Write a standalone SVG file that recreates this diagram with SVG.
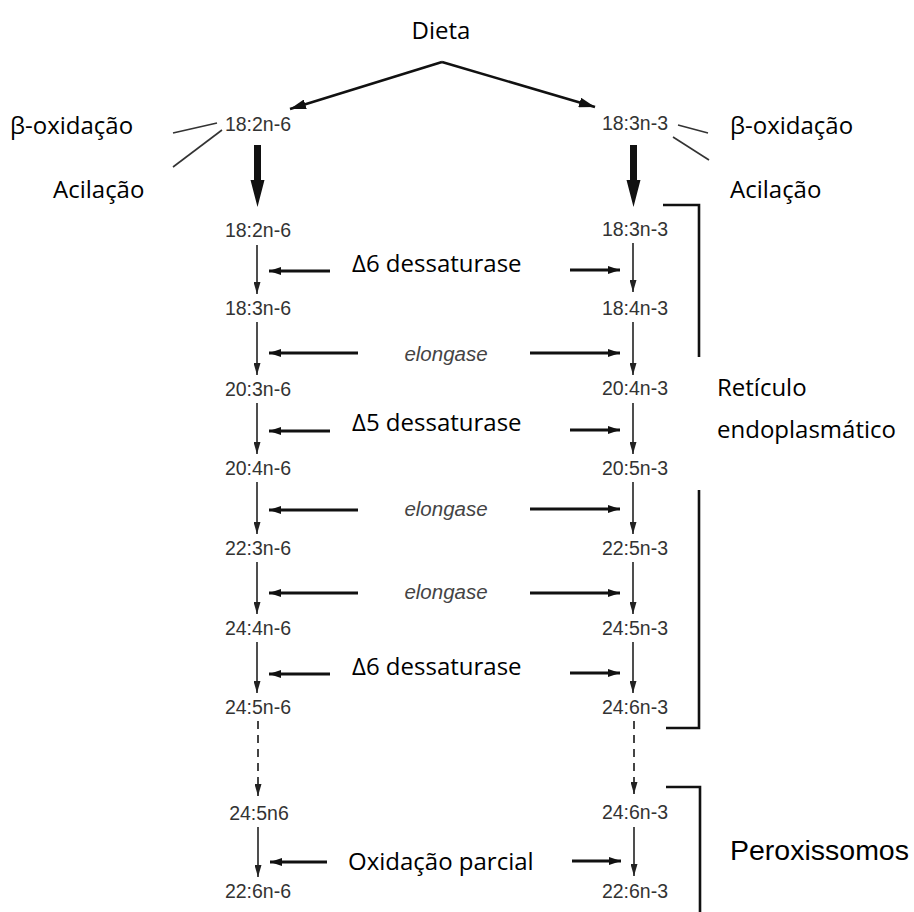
<svg xmlns="http://www.w3.org/2000/svg" width="914" height="912" viewBox="0 0 914 912">
<defs>
<style>
.lbl{font-family:"Open Sans","Noto Sans","Liberation Sans",sans-serif;font-size:24px;fill:#000}
.num{font-family:"Liberation Sans",Arial,sans-serif;font-size:19.5px;fill:#333;text-anchor:middle}
.enz{font-family:"Liberation Sans",Arial,sans-serif;font-size:20.5px;font-style:italic;fill:#444;text-anchor:middle}
.per{font-family:"Liberation Sans",Arial,sans-serif;font-size:28.5px;fill:#000}
.v{stroke:#222;stroke-width:1.6;fill:none;marker-end:url(#hv)}
.vd{stroke:#444;stroke-width:2;fill:none;stroke-dasharray:8 6;marker-end:url(#hv)}
.h{stroke:#111;stroke-width:3;fill:none;marker-end:url(#hh)}
.d{stroke:#111;stroke-width:2.6;fill:none;marker-end:url(#hd)}
.t{stroke:#333;stroke-width:1.6;fill:none}
.br{stroke:#111;stroke-width:2.6;fill:none}
</style>
<marker id="hv" markerUnits="userSpaceOnUse" markerWidth="12" markerHeight="7" refX="12" refY="3.5" orient="auto"><path d="M0,0 L12,3.5 L0,7 z" fill="#222"/></marker>
<marker id="hh" markerUnits="userSpaceOnUse" markerWidth="12" markerHeight="8" refX="12" refY="4" orient="auto"><path d="M0,0 L12,4 L0,8 z" fill="#111"/></marker>
<marker id="hd" markerUnits="userSpaceOnUse" markerWidth="16" markerHeight="10" refX="16" refY="5" orient="auto"><path d="M0,0 L16,5 L0,10 z" fill="#111"/></marker>
</defs>
<rect width="914" height="912" fill="#fff"/>

<g id="connectors">
<!-- Dieta arrows -->
<path class="d" d="M442,62 L290,109"/>
<path class="d" d="M442,62 L595,107"/>
<!-- side lines -->
<path class="t" d="M217,123 L173,133"/>
<path class="t" d="M222,130 L173,167"/>
<path class="t" d="M678,125 L708,133"/>
<path class="t" d="M673,137 L709,160"/>
<!-- thick arrows -->
<path d="M254,145 L261,145 L261,180 L264.5,180 L257.5,207 L250.5,180 L254,180 z" fill="#111"/>
<path d="M630,145 L637,145 L637,180 L640.5,180 L633.5,207 L626.5,180 L630,180 z" fill="#111"/>
<!-- left vertical -->
<path class="v" d="M257,245 V294"/>
<path class="v" d="M257,322 V375"/>
<path class="v" d="M257,403 V454"/>
<path class="v" d="M257,482 V534"/>
<path class="v" d="M257,562 V614"/>
<path class="v" d="M257,642 V693"/>
<path class="vd" d="M258,721 V796"/>
<path class="v" d="M258,827 V877"/>
<!-- right vertical -->
<path class="v" d="M633,243 V292"/>
<path class="v" d="M633,322 V375"/>
<path class="v" d="M633,403 V454"/>
<path class="v" d="M633,482 V534"/>
<path class="v" d="M633,562 V614"/>
<path class="v" d="M633,642 V693"/>
<path class="vd" d="M634,721 V794"/>
<path class="v" d="M634,827 V876"/>
<!-- horizontal enzyme arrows -->
<path class="h" d="M330,271 H269"/>
<path class="h" d="M570,270 H620"/>
<path class="h" d="M358,353 H269"/>
<path class="h" d="M530,353 H620"/>
<path class="h" d="M330,431 H269"/>
<path class="h" d="M570,430 H620"/>
<path class="h" d="M358,510 H269"/>
<path class="h" d="M530,509 H620"/>
<path class="h" d="M358,593 H269"/>
<path class="h" d="M530,593 H620"/>
<path class="h" d="M330,674 H269"/>
<path class="h" d="M570,673 H620"/>
<path class="h" d="M327,862 H270"/>
<path class="h" d="M572,861 H621"/>
<!-- brackets -->
<path class="br" d="M663,205 H699 V357"/>
<path class="br" d="M699,490 V728 H666"/>
<path class="br" d="M666,787 H700 V912"/>
</g>

<g id="dieta"><text class="lbl" x="441" y="39" text-anchor="middle">Dieta</text></g>
<g id="beta-left"><text class="lbl" x="10" y="134">β-oxidação</text></g>
<g id="acil-left"><text class="lbl" x="53" y="198">Acilação</text></g>
<g id="beta-right"><text class="lbl" x="730" y="134">β-oxidação</text></g>
<g id="acil-right"><text class="lbl" x="730" y="198">Acilação</text></g>

<g id="n6-0"><text class="num" x="258" y="131">18:2n-6</text></g>
<g id="n6-1"><text class="num" x="258" y="237">18:2n-6</text></g>
<g id="n6-2"><text class="num" x="258" y="315">18:3n-6</text></g>
<g id="n6-3"><text class="num" x="258" y="396">20:3n-6</text></g>
<g id="n6-4"><text class="num" x="258" y="475">20:4n-6</text></g>
<g id="n6-5"><text class="num" x="258" y="555">22:3n-6</text></g>
<g id="n6-6"><text class="num" x="258" y="635">24:4n-6</text></g>
<g id="n6-7"><text class="num" x="258" y="714">24:5n-6</text></g>
<g id="n6-8"><text class="num" x="259" y="820">24:5n6</text></g>
<g id="n6-9"><text class="num" x="258" y="898">22:6n-6</text></g>

<g id="n3-0"><text class="num" x="635" y="130">18:3n-3</text></g>
<g id="n3-1"><text class="num" x="635" y="236">18:3n-3</text></g>
<g id="n3-2"><text class="num" x="635" y="315">18:4n-3</text></g>
<g id="n3-3"><text class="num" x="635" y="395">20:4n-3</text></g>
<g id="n3-4"><text class="num" x="635" y="475">20:5n-3</text></g>
<g id="n3-5"><text class="num" x="635" y="555">22:5n-3</text></g>
<g id="n3-6"><text class="num" x="635" y="635">24:5n-3</text></g>
<g id="n3-7"><text class="num" x="635" y="714">24:6n-3</text></g>
<g id="n3-8"><text class="num" x="635" y="819">24:6n-3</text></g>
<g id="n3-9"><text class="num" x="635" y="898">22:6n-3</text></g>

<g id="enz-d6a"><text class="lbl" x="352" y="272">Δ6 dessaturase</text></g>
<g id="enz-el1"><text class="enz" x="446" y="361">elongase</text></g>
<g id="enz-d5"><text class="lbl" x="352" y="431">Δ5 dessaturase</text></g>
<g id="enz-el2"><text class="enz" x="446" y="516">elongase</text></g>
<g id="enz-el3"><text class="enz" x="446" y="599">elongase</text></g>
<g id="enz-d6b"><text class="lbl" x="352" y="675">Δ6 dessaturase</text></g>
<g id="enz-ox"><text class="lbl" x="348" y="870">Oxidação parcial</text></g>

<g id="reticulo"><text class="lbl" x="717" y="396">Retículo</text><text class="lbl" x="717" y="438">endoplasmático</text></g>
<g id="peroxissomos"><text class="per" x="730" y="860">Peroxissomos</text></g>
</svg>
